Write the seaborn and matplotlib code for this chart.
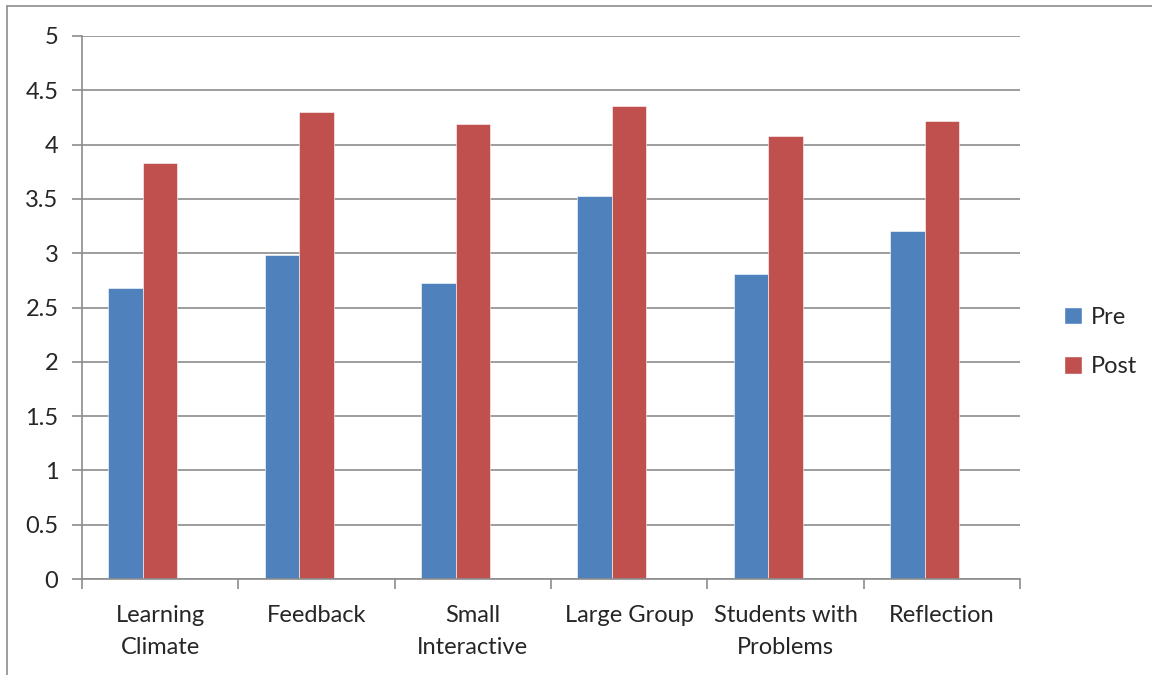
import seaborn as sns
import pandas as pd
import matplotlib.pyplot as plt
from matplotlib.lines import Line2D
from matplotlib.patches import Patch

categories = ["Learning\nClimate", "Feedback", "Small\nInteractive", "Large Group",
              "Students with\nProblems", "Reflection"]
pre = [2.68, 2.98, 2.73, 3.53, 2.81, 3.20]
post = [3.83, 4.30, 4.19, 4.36, 4.08, 4.22]
series = ["Pre", "Post"]
colors = ["#4F81BD", "#C0504D"]

df = pd.DataFrame({
    "category": categories * 2,
    "value": pre + post,
    "series": ["Pre"] * len(pre) + ["Post"] * len(post),
})

sns.set_style("white")
plt.rcParams['font.family'] = ['Lato', 'DejaVu Sans']

fig = plt.figure(figsize=(11.52, 6.75), dpi=100)
ax = fig.add_axes([82/1152, 1 - 579/675, 938/1152, 543/675])

# the original chart keeps room for an empty third series, so bars sit left of centre
sns.barplot(data=df, x="category", y="value", hue="series", hue_order=series + ["(empty)"],
            palette=colors + ["#9BBB59"], width=0.662, ax=ax, saturation=1, legend=False,
            edgecolor="white", linewidth=0.4)

ax.set_ylim(0, 5)
ax.set_xlim(-0.5, len(categories) - 0.5)
ax.set_yticks([i * 0.5 for i in range(11)])
ax.set_yticklabels(["0", "0.5", "1", "1.5", "2", "2.5", "3", "3.5", "4", "4.5", "5"])
ax.yaxis.grid(True, color="#8c8c8c", linewidth=1.2)
ax.set_axisbelow(True)

# category ticks at boundaries
ax.set_xticks(range(len(categories)))
ax.set_xticklabels(categories, fontsize=17, linespacing=1.6)
ax.set_xticks([i - 0.5 for i in range(len(categories) + 1)], minor=True)
ax.tick_params(which="both", bottom=True, left=True)
ax.tick_params(axis="x", which="major", length=0, pad=19)
ax.tick_params(axis="x", which="minor", length=7, width=1.2, color="#8c8c8c", direction="out")
ax.tick_params(axis="y", length=7, width=1.2, color="#8c8c8c", direction="out", labelsize=17, pad=10)
ax.set_xlabel("")
ax.set_ylabel("")

for s in ["top", "right"]:
    ax.spines[s].set_visible(False)
for s in ["left", "bottom"]:
    ax.spines[s].set_color("#8c8c8c")
    ax.spines[s].set_linewidth(1.2)

handles = [Patch(facecolor=c, label=l) for c, l in zip(colors, series)]
fig.legend(handles=handles, loc="center left", bbox_to_anchor=(1052/1152, 1 - 342/675),
           frameon=False, fontsize=17, handlelength=0.75, handleheight=0.75,
           labelspacing=1.2, handletextpad=0.4, borderpad=0)

# chart area border (top and left visible)
fig.add_artist(Line2D([7/1152, 1], [1 - 6/675, 1 - 6/675], color="#8c8c8c", linewidth=1.2))
fig.add_artist(Line2D([7/1152, 7/1152], [0, 1 - 6/675], color="#8c8c8c", linewidth=1.2))

fig.savefig("out.png", dpi=100)
